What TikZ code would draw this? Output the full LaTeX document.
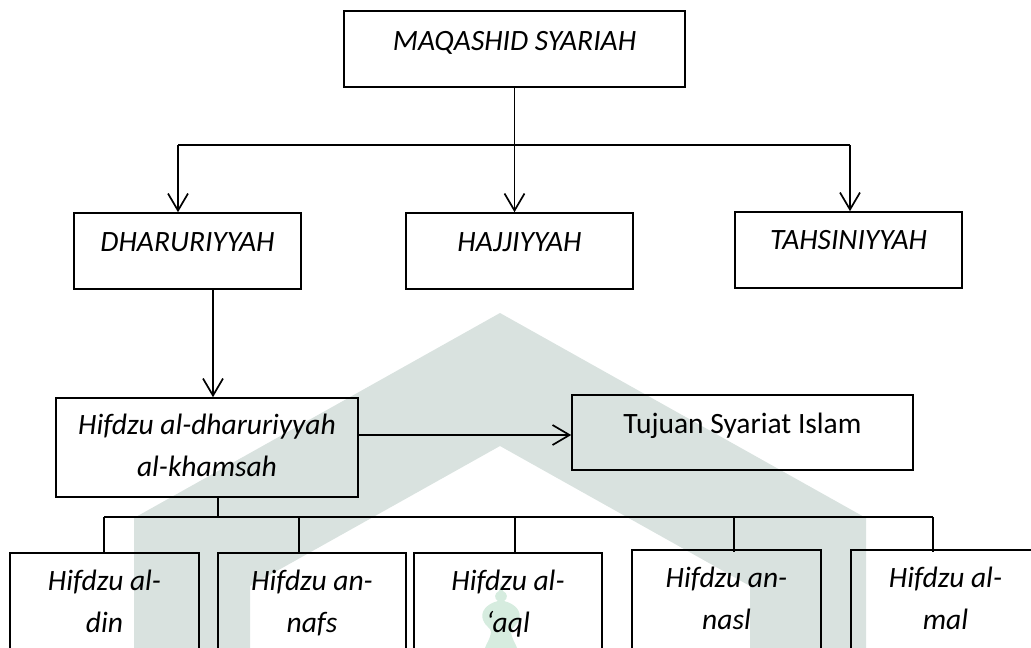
\documentclass[tikz,border=0pt]{standalone}
\usepackage{fontspec}
\setmainfont{Carlito}
\usetikzlibrary{arrows.meta}
\definecolor{wm}{RGB}{217,226,223}
\definecolor{mint}{RGB}{214,236,223}
\begin{document}
\begin{tikzpicture}[x=1pt, y=-1pt, line width=1.7pt,
  box/.style={draw, inner sep=0pt, line width=1.6pt},
  lbl/.style={font=\fontsize{29.5}{42}\selectfont\itshape, align=center, anchor=base, inner sep=0pt},
  plain/.style={font=\fontsize{29.5}{42}\selectfont, align=center, anchor=base, inner sep=0pt},
  arr/.style={-{Straight Barb[length=17pt,width=20pt]}}]
\useasboundingbox (0,0) rectangle (1031,648);
\clip (0,0) rectangle (1031,648);
% watermark
\fill[wm] (134,648) -- (134,518) -- (500,313) -- (866,518) -- (866,648) -- (750,648) -- (750,586) -- (500,446) -- (250,586) -- (250,648) -- cycle;
\fill[mint] (501,584) -- (503,591) .. controls (508,593) and (508,599) .. (504,601)
  .. controls (516,604) and (522,612) .. (519,620) .. controls (517,626) and (511,628) .. (511,632)
  .. controls (512,640) and (516,644) .. (517,648) -- (485,648)
  .. controls (486,644) and (490,640) .. (491,632) .. controls (491,628) and (485,626) .. (483,620)
  .. controls (480,612) and (486,604) .. (498,601) .. controls (494,599) and (494,593) .. (499,591) -- cycle;
% boxes
\node[box, minimum width=341pt, minimum height=76pt] (maq) at (514.5,49) {};
\node[box, minimum width=227pt, minimum height=76pt] (dha) at (187.5,251) {};
\node[box, minimum width=227pt, minimum height=76pt] (haj) at (519.5,251) {};
\node[box, minimum width=227pt, minimum height=76pt] (tah) at (848.5,250) {};
\node[box, minimum width=302pt, minimum height=99pt] (hkh) at (207,447.5) {};
\node[box, minimum width=341pt, minimum height=75pt] (tuj) at (742.5,432.5) {};
\node[box, minimum width=189pt, minimum height=127pt] (b1) at (104.5,616.5) {};
\node[box, minimum width=188pt, minimum height=127pt] (b2) at (312,616.5) {};
\node[box, minimum width=188pt, minimum height=127pt] (b3) at (508,616.5) {};
\node[box, minimum width=189pt, minimum height=130pt] (b4) at (726.5,615) {};
\node[box, minimum width=189pt, minimum height=130pt] (b5) at (945.5,615) {};
% texts (base anchor = baseline of last line)
\node[lbl] (maqt) at (514.5,50) {MAQASHID SYARIAH};
\node[lbl] (dhat) at (187.5,251) {DHARURIYYAH};
\node[lbl] (hajt) at (519.5,251) {HAJJIYYAH};
\node[lbl] (taht) at (848.5,249) {TAHSINIYYAH};
\node[lbl] (hkht) at (207,476) {Hifdzu al-dharuriyyah\\al-khamsah};
\node[plain] (tujt) at (742.5,433) {Tujuan Syariat Islam};
\node[lbl] (b1t) at (104.5,632) {Hifdzu al-\\din};
\node[lbl] (b2t) at (312,632) {Hifdzu an-\\nafs};
\node[lbl] (b3t) at (508,632) {Hifdzu al-\\‘aql};
\node[lbl] (b4t) at (726.5,629) {Hifdzu an-\\nasl};
\node[lbl] (b5t) at (945.5,629) {Hifdzu al-\\mal};
% connectors
\coordinate (tbL) at (178,145);
\coordinate (tbR) at (850,145);
\draw[arr] (maq.south) -- (maq.south |- haj.north);
\draw (tbL) -- (tbR);
\draw[arr] (tbL) -- (tbL |- dha.north);
\draw[arr] (tbR) -- (tbR |- tah.north);
\coordinate (dx) at (213,0);
\draw[arr] (dha.south -| dx) -- (hkh.north -| dx);
\coordinate (ay) at (0,435);
\draw[arr] (hkh.east |- ay) -- (tuj.west |- ay);
\coordinate (bx) at (218,517);
\draw (hkh.south -| bx) -- (bx);
\coordinate (p1) at (104,517);
\coordinate (p2) at (299,517);
\coordinate (p3) at (515,517);
\coordinate (p4) at (734,517);
\coordinate (p5) at (933,517);
\draw (p1) -- (p5);
\draw (p1) -- (p1 |- b1.north);
\draw (p2) -- (p2 |- b2.north);
\draw (p3) -- (p3 |- b3.north);
\draw (p4) -- ([yshift=-3pt]p4 |- b4.north);
\draw (p5) -- ([yshift=-3pt]p5 |- b5.north);
\end{tikzpicture}
\end{document}
